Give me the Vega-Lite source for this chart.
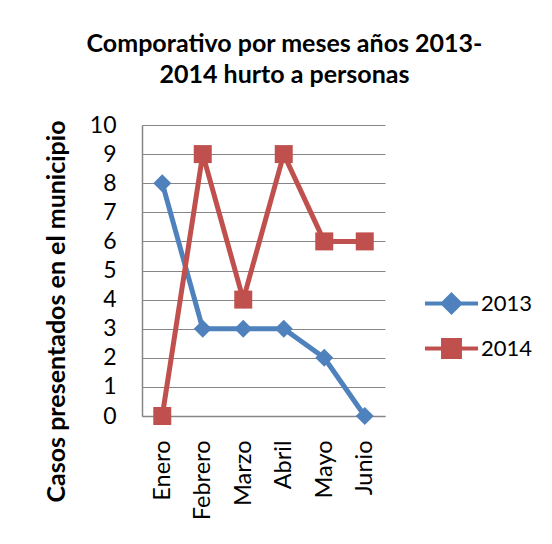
{
  "$schema": "https://vega.github.io/schema/vega-lite/v6.json",
  "autosize": "none",
  "width": 243,
  "height": 291,
  "padding": {"left": 142, "top": 125, "right": 167, "bottom": 128},
  "background": "white",
  "config": {
    "font": "Lato",
    "view": {"stroke": null}
  },
  "title": {
    "text": ["Comporativo por meses años 2013-", "2014 hurto a personas"],
    "font": "Lato",
    "fontSize": 25,
    "fontWeight": "bold",
    "color": "black",
    "lineHeight": 31,
    "anchor": "middle",
    "dx": 21,
    "offset": 26
  },
  "data": {
    "values": [
      {"mes": "Enero", "serie": "2013", "casos": 8},
      {"mes": "Febrero", "serie": "2013", "casos": 3},
      {"mes": "Marzo", "serie": "2013", "casos": 3},
      {"mes": "Abril", "serie": "2013", "casos": 3},
      {"mes": "Mayo", "serie": "2013", "casos": 2},
      {"mes": "Junio", "serie": "2013", "casos": 0},
      {"mes": "Enero", "serie": "2014", "casos": 0},
      {"mes": "Febrero", "serie": "2014", "casos": 9},
      {"mes": "Marzo", "serie": "2014", "casos": 4},
      {"mes": "Abril", "serie": "2014", "casos": 9},
      {"mes": "Mayo", "serie": "2014", "casos": 6},
      {"mes": "Junio", "serie": "2014", "casos": 6}
    ]
  },
  "encoding": {
    "x": {
      "field": "mes",
      "type": "ordinal",
      "sort": ["Enero", "Febrero", "Marzo", "Abril", "Mayo", "Junio"],
      "scale": {"type": "point", "padding": 0.5},
      "axis": {
        "title": null,
        "labelAngle": -90,
        "labelFontSize": 23.5,
        "labelColor": "black",
        "labelPadding": 24,
        "ticks": false,
        "domainColor": "#868686",
        "domainWidth": 1.5,
        "grid": false
      }
    },
    "y": {
      "field": "casos",
      "type": "quantitative",
      "scale": {"domain": [0, 10], "nice": false},
      "axis": {
        "title": "Casos presentados en el municipio",
        "titleFontSize": 25,
        "titleFontWeight": "bold",
        "titleColor": "black",
        "titleY": 186,
        "titlePadding": 20,
        "values": [0, 1, 2, 3, 4, 5, 6, 7, 8, 9, 10],
        "labelFontSize": 23,
        "labelColor": "black",
        "labelPadding": 26,
        "ticks": false,
        "domainColor": "#868686",
        "domainWidth": 1.5,
        "gridColor": "#868686",
        "gridWidth": 1.2
      }
    },
    "color": {
      "field": "serie",
      "type": "nominal",
      "scale": {"domain": ["2013", "2014"], "range": ["#4F81BD", "#C0504D"]},
      "legend": {
        "title": null,
        "orient": "none",
        "legendX": 284,
        "legendY": 153,
        "padding": 0,
        "rowPadding": 2,
        "symbolSize": 2209,
        "symbolStrokeWidth": 4,
        "labelFontSize": 22,
        "labelColor": "black",
        "labelOffset": 4,
        "encode": {
          "symbols": {
            "update": {
              "shape": {"signal": "datum.value == '2013' ? 'M-1.13,0H1.13M0,-0.37L0.37,0L0,0.37L-0.37,0Z' : 'M-1.13,0H1.13M-0.36,-0.36H0.36V0.36H-0.36Z'"},
              "stroke": {"signal": "datum.value == '2013' ? '#4F81BD' : '#C0504D'"},
              "fill": {"signal": "datum.value == '2013' ? '#4F81BD' : '#C0504D'"},
              "strokeWidth": {"value": 4},
              "opacity": {"value": 1}
            }
          }
        }
      }
    }
  },
  "layer": [
    {
      "mark": {"type": "line", "strokeWidth": 5}
    },
    {
      "transform": [{"filter": "datum.serie == '2013'"}],
      "mark": {"type": "point", "filled": true, "opacity": 1, "size": 324, "shape": "diamond"}
    },
    {
      "transform": [{"filter": "datum.serie == '2014'"}],
      "mark": {"type": "point", "filled": true, "opacity": 1, "size": 324, "shape": "square"}
    }
  ]
}
